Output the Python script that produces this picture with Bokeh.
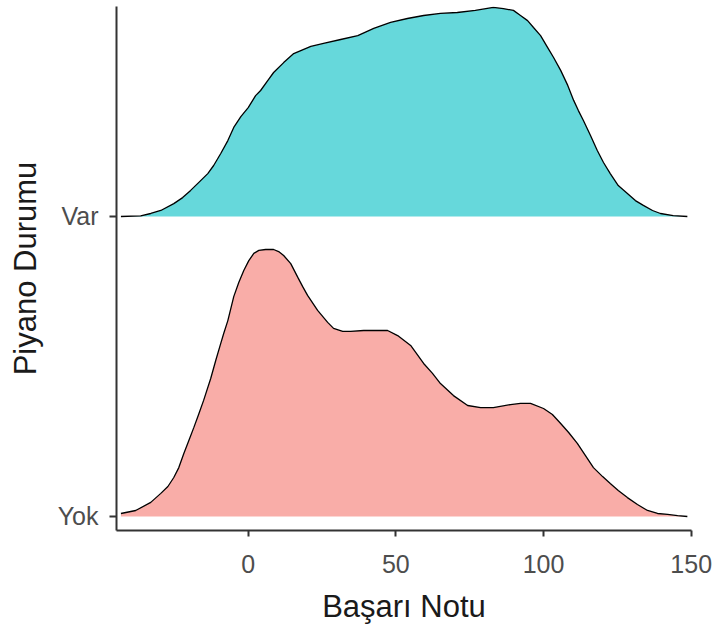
from bokeh.plotting import figure
from bokeh.models import FixedTicker, Range1d
from bokeh.embed import file_html
from bokeh.resources import INLINE

# ---- data ----
categories = ["Yok", "Var"]
x_ticks = [0, 50, 100, 150]

var_x = [-43.1, -36.4, -33.0, -29.6, -25.2, -22.2, -19.5, -16.8, -13.7, -11.7,
         -9.3, -6.9, -4.9, -2.5, 0.0, 2.5, 4.2, 6.6, 8.6, 12.0,
         15.4, 17.8, 21.2, 25.5, 31.3, 37.1, 42.5, 48.2, 53.9, 59.4,
         65.1, 70.8, 76.9, 83.0, 86.4, 89.8, 92.2, 94.6, 96.6, 99.0,
         101.4, 103.4, 105.8, 108.2, 110.2, 111.8, 113.5, 115.9, 118.2, 120.3,
         122.6, 125.3, 128.4, 131.1, 133.8, 136.9, 139.6, 143.9, 148.7]
var_h = [0.0, 0.002, 0.010, 0.020, 0.043, 0.063, 0.087, 0.113, 0.143, 0.170,
         0.210, 0.253, 0.297, 0.333, 0.363, 0.403, 0.420, 0.453, 0.480, 0.513,
         0.543, 0.553, 0.567, 0.577, 0.590, 0.603, 0.627, 0.647, 0.660, 0.670,
         0.677, 0.680, 0.687, 0.697, 0.693, 0.687, 0.670, 0.653, 0.630, 0.603,
         0.563, 0.530, 0.487, 0.437, 0.387, 0.353, 0.320, 0.270, 0.220, 0.180,
         0.143, 0.103, 0.077, 0.053, 0.037, 0.020, 0.010, 0.003, 0.0]

yok_x = [-43.1, -38.1, -33.0, -29.6, -27.2, -25.2, -23.5, -21.8, -20.1, -18.4,
         -16.8, -15.1, -12.7, -11.0, -9.3, -8.3, -6.9, -4.9, -3.2, -1.5,
         0.2, 1.9, 3.6, 5.9, 8.6, 10.3, 12.0, 14.4, 16.8, 18.4,
         20.1, 23.5, 26.9, 28.9, 32.0, 34.7, 39.1, 47.2, 50.6, 55.0,
         59.4, 62.4, 65.1, 69.5, 74.3, 78.7, 83.0, 88.8, 92.2, 95.6,
         100.0, 103.0, 105.8, 108.5, 111.5, 114.2, 116.9, 120.0, 122.6, 125.3,
         128.4, 131.8, 135.2, 138.6, 142.0, 145.4, 148.7]
yok_h = [0.010, 0.020, 0.047, 0.077, 0.100, 0.130, 0.163, 0.210, 0.253, 0.297,
         0.340, 0.387, 0.460, 0.520, 0.577, 0.610, 0.653, 0.733, 0.780, 0.820,
         0.853, 0.877, 0.887, 0.890, 0.890, 0.883, 0.870, 0.843, 0.797, 0.767,
         0.737, 0.687, 0.647, 0.627, 0.617, 0.617, 0.620, 0.620, 0.603, 0.570,
         0.510, 0.477, 0.443, 0.403, 0.370, 0.363, 0.363, 0.373, 0.377, 0.377,
         0.360, 0.340, 0.310, 0.280, 0.243, 0.203, 0.163, 0.133, 0.110, 0.087,
         0.063, 0.040, 0.020, 0.010, 0.007, 0.003, 0.0]

series = {"Var": (var_x, var_h), "Yok": (yok_x, yok_h)}
fills = {"Yok": "#F9ADA8", "Var": "#66D8DB"}

p = figure(width=712, height=628, output_backend="svg", toolbar_location=None,
           x_range=Range1d(-44.6, 150.1), y_range=Range1d(0.9533, 2.70),
           min_border_left=116, min_border_right=21, min_border_top=6,
           min_border_bottom=98, background_fill_color="white",
           border_fill_color="white")
p.outline_line_color = None
p.xgrid.visible = False
p.ygrid.visible = False

# draw top ridge first, lower ridge after
for name in ["Var", "Yok"]:
    xs, hs = series[name]
    base = categories.index(name) + 1
    top = [base + h for h in hs]
    p.varea(x=xs, y1=[base] * len(xs), y2=top, fill_color=fills[name], fill_alpha=1.0)
    p.line(x=xs, y=top, line_color="black", line_width=1.3)

for ax in (p.xaxis[0], p.yaxis[0]):
    ax.axis_line_color = "#333333"
    ax.axis_line_width = 2
    ax.major_tick_line_color = "#333333"
    ax.major_tick_line_width = 2
    ax.major_tick_in = 0
    ax.minor_tick_line_color = None
    ax.major_label_text_font = "Liberation Sans"
    ax.major_label_text_font_size = "25px"
    ax.major_label_text_color = "#4D4D4D"
    ax.axis_label_text_font = "Liberation Sans"
    ax.axis_label_text_font_size = "31px"
    ax.axis_label_text_font_style = "normal"
    ax.axis_label_text_color = "#1A1A1A"

p.xaxis.ticker = FixedTicker(ticks=x_ticks)
p.xaxis.major_tick_out = 6
p.xaxis.major_label_standoff = 18
p.xaxis.axis_label = "Başarı Notu"
p.xaxis.axis_label_standoff = 13

p.yaxis.ticker = FixedTicker(ticks=[i + 1 for i in range(len(categories))])
p.yaxis.major_label_overrides = {i + 1: c for i, c in enumerate(categories)}
p.yaxis.major_tick_out = 7
p.yaxis.major_label_standoff = 11
p.yaxis.axis_label = "Piyano Durumu"
p.yaxis.axis_label_standoff = 12

open("out.html", "w").write(file_html(p, INLINE))
